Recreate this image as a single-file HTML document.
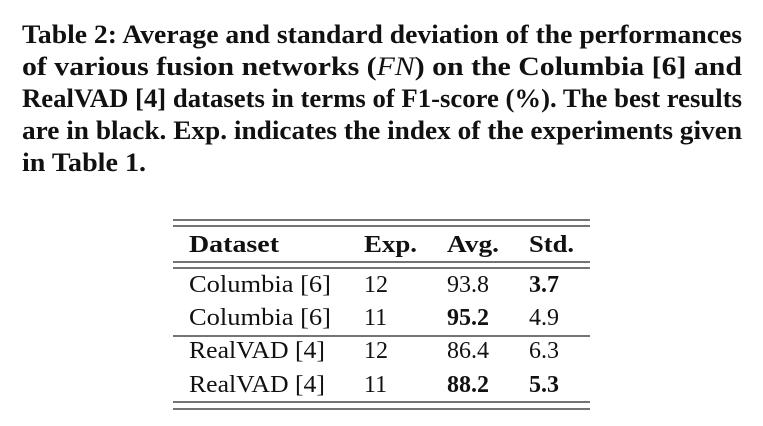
<!DOCTYPE html>
<html><head><meta charset="utf-8"><style>
html,body{margin:0;padding:0;background:#fff;width:763px;height:426px;overflow:hidden}
svg{display:block}
text{font-family:"Liberation Serif",serif;fill:#111}
.c{font-weight:bold;font-size:26px}
.t{font-size:24px}
.b{font-weight:bold}
</style></head><body>
<svg width="763" height="426" viewBox="0 0 763 426">
<text class="c" x="22" y="43" textLength="720" lengthAdjust="spacingAndGlyphs">Table 2: Average and standard deviation of the performances</text>
<text class="c" x="22" y="75" textLength="720" lengthAdjust="spacingAndGlyphs">of various fusion networks (<tspan font-style="italic" font-weight="normal">FN</tspan>) on the Columbia [6] and</text>
<text class="c" x="22" y="107" textLength="720" lengthAdjust="spacingAndGlyphs">RealVAD [4] datasets in terms of F1-score (%). The best results</text>
<text class="c" x="22" y="139" textLength="720" lengthAdjust="spacingAndGlyphs">are in black. Exp. indicates the index of the experiments given</text>
<text class="c" x="22" y="171" textLength="124" lengthAdjust="spacingAndGlyphs">in Table 1.</text>
<g stroke="#222" stroke-width="1.3">
<line x1="173" y1="220" x2="590" y2="220"/><line x1="173" y1="226" x2="590" y2="226"/>
<line x1="173" y1="262" x2="590" y2="262"/><line x1="173" y1="268" x2="590" y2="268"/>
<line x1="173" y1="336" x2="590" y2="336"/>
<line x1="173" y1="402" x2="590" y2="402"/><line x1="173" y1="409" x2="590" y2="409"/>
</g>
<g>
<text class="t b" x="189" y="252" textLength="90" lengthAdjust="spacingAndGlyphs">Dataset</text>
<text class="t b" x="364" y="252" textLength="53" lengthAdjust="spacingAndGlyphs">Exp.</text>
<text class="t b" x="447" y="252" textLength="52" lengthAdjust="spacingAndGlyphs">Avg.</text>
<text class="t b" x="529" y="252" textLength="45" lengthAdjust="spacingAndGlyphs">Std.</text>
<text class="t" x="189" y="292" textLength="142" lengthAdjust="spacingAndGlyphs">Columbia [6]</text>
<text class="t" x="364" y="292">12</text><text class="t" x="447" y="292">93.8</text><text class="t b" x="529" y="292">3.7</text>
<text class="t" x="189" y="325" textLength="142" lengthAdjust="spacingAndGlyphs">Columbia [6]</text>
<text class="t" x="364" y="325">11</text><text class="t b" x="447" y="325">95.2</text><text class="t" x="529" y="325">4.9</text>
<text class="t" x="189" y="358" textLength="136" lengthAdjust="spacingAndGlyphs">RealVAD [4]</text>
<text class="t" x="364" y="358">12</text><text class="t" x="447" y="358">86.4</text><text class="t" x="529" y="358">6.3</text>
<text class="t" x="189" y="392" textLength="136" lengthAdjust="spacingAndGlyphs">RealVAD [4]</text>
<text class="t" x="364" y="392">11</text><text class="t b" x="447" y="392">88.2</text><text class="t b" x="529" y="392">5.3</text>
</g>
</svg>
</body></html>
